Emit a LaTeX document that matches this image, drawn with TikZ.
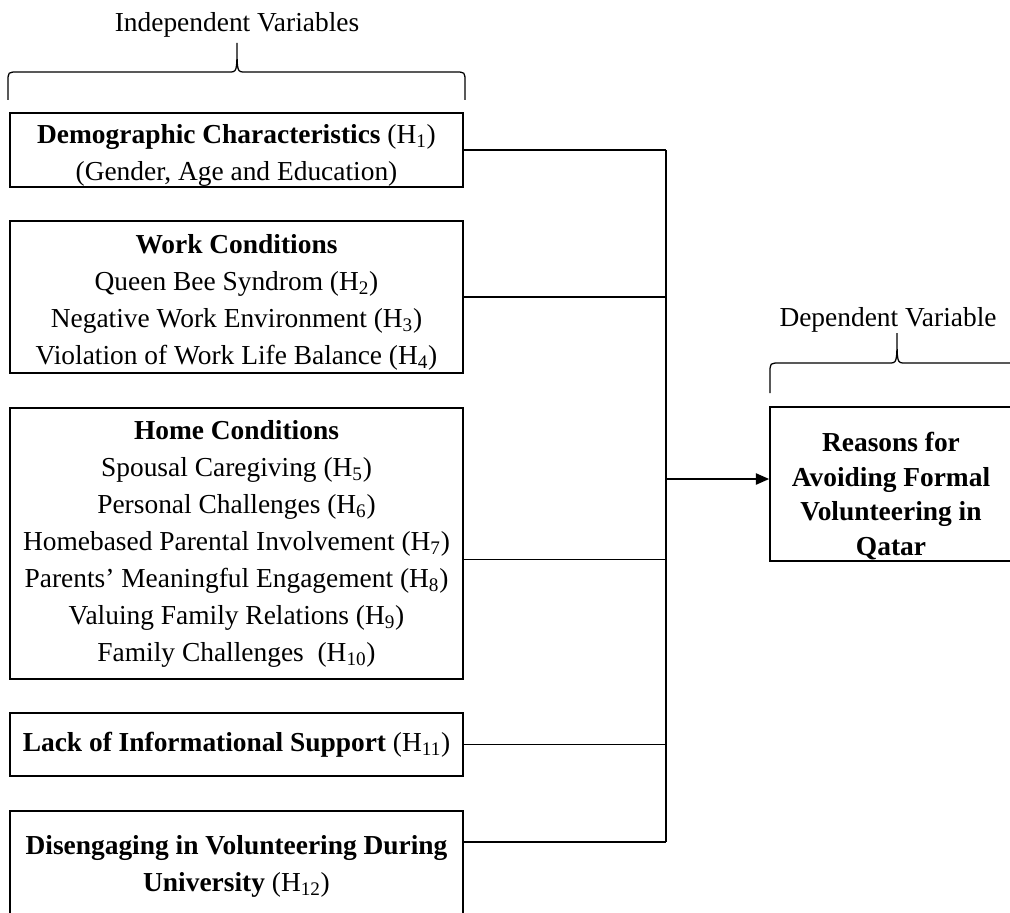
\documentclass[tikz,border=0pt]{standalone}
\usepackage{fontspec}
\setmainfont{Liberation Serif}
\usetikzlibrary{calc,arrows.meta}
\def\topbrace(#1:#2)(#3:#4)(#5:#6){\draw[line width=0.9pt] (#1, #3) -- (#1, #4+10) .. controls (#1, #4) .. (#1+10, #4) -- (#5-8, #4) .. controls (#5, #4) .. (#5, #6) .. controls (#5, #4) .. (#5+8, #4) -- (#2-10, #4) .. controls (#2, #4) .. (#2, #4+10) -- (#2, #3);}
\def\lowstrut{\rule{0pt}{21pt}}

\tikzset{
	every node/.style={font=\fontsize{19.5}{26.3}\selectfont},
	varbox/.style={draw, line width=1.2pt, align=center, inner sep=0pt, minimum width=11.325cm},
	link/.style={line width=1.2pt},
}

\begin{document}
\begin{tikzpicture}[x=0.025cm, y=-0.025cm]
			%%%%% START %%%%%
			\useasboundingbox (0, 0) rectangle (1010, 912);
			
			\node (indep) at (237, 25) {Independent Variables};
			\topbrace(8:465)(100:72)(237:43)
			
			\node[varbox, minimum height=1.85cm] (demo) at (236.5, 150) {\lowstrut\textbf{Demographic Characteristics} (H\textsubscript{1})\\(Gender, Age and Education)};
			\node[varbox, minimum height=3.8cm] (work) at (236.5, 297) {\lowstrut\textbf{Work Conditions}\\Queen Bee Syndrom (H\textsubscript{2})\\Negative Work Environment (H\textsubscript{3})\\Violation of Work Life Balance (H\textsubscript{4})};
			\node[varbox, minimum height=6.775cm] (home) at (236.5, 543.5) {\textbf{Home Conditions}\\Spousal Caregiving (H\textsubscript{5})\\Personal Challenges (H\textsubscript{6})\\Homebased Parental Involvement (H\textsubscript{7})\\Parents’ Meaningful Engagement (H\textsubscript{8})\\Valuing Family Relations (H\textsubscript{9})\\Family Challenges~ (H\textsubscript{10})};
			\node[varbox, minimum height=1.575cm] (info) at (236.5, 744.5) {\textbf{Lack of Informational Support} (H\textsubscript{11})};
			\node[varbox, minimum height=2.75cm] (uni) at (236.5, 866) {\textbf{Disengaging in Volunteering During}\\\textbf{University} (H\textsubscript{12})};
			
			\node (dep) at (888, 320) {Dependent Variable};
			\topbrace(770:1040)(393:363)(897:333)
			
			\node[draw, line width=1.2pt, minimum width=6.1cm, minimum height=3.85cm] (dv) at (892, 484) {};
			\node[align=center, font=\bfseries\fontsize{19.5}{24.6}\selectfont] (dvtext) at (891, 496) {Reasons for\\Avoiding Formal\\Volunteering in\\Qatar};
			
			\coordinate (spine) at (666, 479);
			\coordinate (homeout) at ($(home.east)+(0, 16)$);
			\coordinate (uniout) at ($(uni.east)+(0, -24)$);
			
			\draw[link] (demo.east) -- (demo.east -| spine);
			\draw[link] (work.east) -- (work.east -| spine);
			\draw[link] (homeout) -- (homeout -| spine);
			\draw[link] (info.east) -- (info.east -| spine);
			\draw[link] (uniout) -- (uniout -| spine);
			\draw[link] (demo.east -| spine) -- (uniout -| spine);
			\draw[link, -{Triangle[length=3.3mm, width=2.8mm]}] (spine) -- (spine -| dv.west);
			%%%%% END %%%%%
		\end{tikzpicture}
\end{document}
